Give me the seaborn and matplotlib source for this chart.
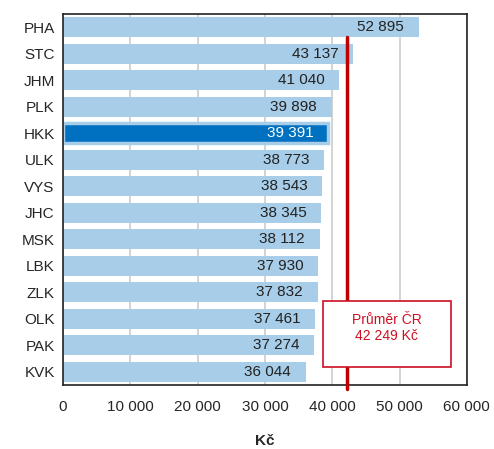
import pandas as pd
import matplotlib.pyplot as plt
import seaborn as sns
from matplotlib.patches import Rectangle

# === DATA ===
kraje = ["PHA", "STC", "JHM", "PLK", "HKK", "ULK", "VYS",
         "JHC", "MSK", "LBK", "ZLK", "OLK", "PAK", "KVK"]
mzda = [52895, 43137, 41040, 39898, 39391, 38773, 38543,
        38345, 38112, 37930, 37832, 37461, 37274, 36044]
prumer_cr = 42249
zvyrazneny = "HKK"

df = pd.DataFrame({"kraj": kraje, "mzda": mzda})

sns.set_style("white")
plt.rcParams['font.family'] = ['Liberation Sans', 'DejaVu Sans']

svetla = "#a7cde8"
tmava = "#0070c0"
cervena = "#cc1122"
barvy = {k: (tmava if k == zvyrazneny else svetla) for k in kraje}

fig = plt.figure(figsize=(4.94, 4.49), dpi=100)
ax = fig.add_axes([0.1275, 0.1425, 0.8175, 0.826])

sns.barplot(data=df, x="mzda", y="kraj", hue="kraj", palette=barvy,
            saturation=1, legend=False, orient="h", width=0.76, ax=ax, zorder=2)

# zvyrazneny kraj - tmavy pruh se svetlym okrajem
for patch, k in zip(ax.patches, kraje):
    patch.set_linewidth(0)
    if k == zvyrazneny:
        patch.set_edgecolor(svetla)
        patch.set_linewidth(2.5)

# popisky hodnot
def fmt(v):
    return f"{v:,}".replace(",", " ")

for i, (k, v) in enumerate(zip(kraje, mzda)):
    ax.text(v - 2200, i, fmt(v), ha="right", va="center", fontsize=11,
            color="white" if k == zvyrazneny else "#222222", zorder=4)

# prumer CR
ax.axvline(prumer_cr, ymin=-0.01, ymax=0.938, color="#c00000", lw=2.5,
           zorder=3, clip_on=False)
ax.add_patch(Rectangle((38600, 10.34), 19000, 2.48, fc="white", ec=cervena,
                       lw=1.2, zorder=5))
ax.text(48100, 11.36, "Průměr ČR\n42 249 Kč", ha="center", va="center",
        fontsize=10, color=cervena, zorder=6, linespacing=1.2)

ax.set_xlim(0, 60000)
ax.set_ylim(13.5, -0.5)
ax.set_xticks(range(0, 60001, 10000))
ax.set_xticklabels([fmt(t) for t in range(0, 60001, 10000)], fontsize=11)
ax.xaxis.grid(True, color="#cccccc", lw=1.2, zorder=0)
ax.set_axisbelow(True)

ax.set_yticks(range(len(kraje)))
ax.set_yticklabels(kraje, fontsize=11)
ax.set_yticks([i - 0.5 for i in range(len(kraje) + 1)], minor=True)
ax.tick_params(axis="y", which="major", length=0, pad=6)
ax.tick_params(axis="y", which="minor", length=4, width=1.2, direction="out")
ax.tick_params(axis="x", length=5, width=1.2, direction="out", pad=6)

for s in ax.spines.values():
    s.set_color("#222222")
    s.set_linewidth(1.2)

ax.set_xlabel("Kč", fontsize=11, fontweight="bold", labelpad=14)
ax.set_ylabel("")

plt.savefig("out.png", dpi=100)
plt.close()
